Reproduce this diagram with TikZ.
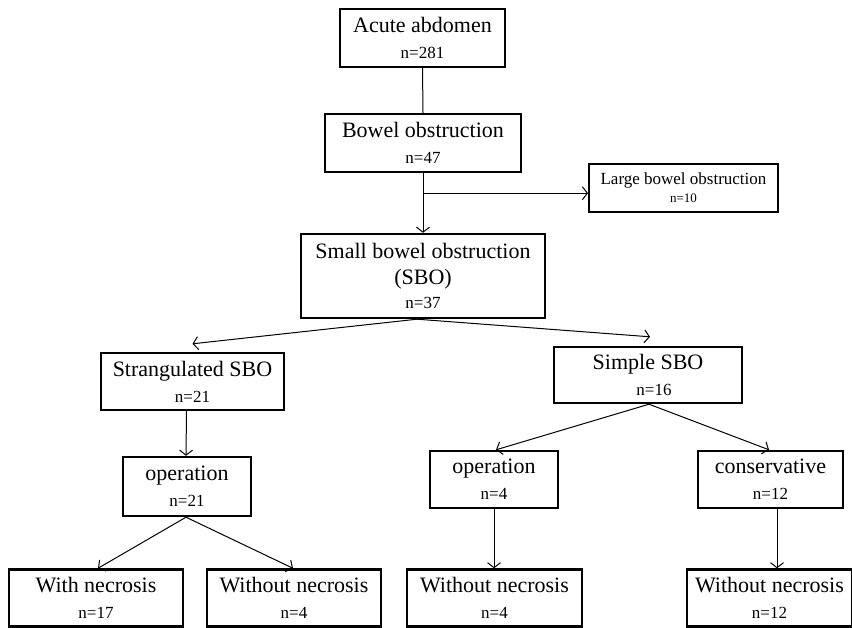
\documentclass[tikz,border=0pt]{standalone}
\usepackage{fontspec}
\setmainfont{Liberation Serif}
\usetikzlibrary{arrows.meta,calc}
\newcommand{\bigf}{\fontsize{22}{24}\selectfont}
\newcommand{\nf}{\fontsize{17}{20}\selectfont}
\newcommand{\smf}{\fontsize{17}{18}\selectfont}
\newcommand{\snf}{\fontsize{13}{15}\selectfont}
\begin{document}
\begin{tikzpicture}[x=1pt,y=-1pt,
  box/.style={draw, line width=2.4pt, inner sep=0pt, align=center, font=\bigf},
  conn/.style={line width=1pt},
  arr/.style={line width=1pt, -{Straight Barb[length=5pt,width=13pt,line width=1pt]}}]
\useasboundingbox (0,0) rectangle (852,628);

\node[box, minimum width=165pt, minimum height=58pt] (A) at (422.5,38) {Acute abdomen\\[2pt]{\nf n=281}};
\node[box, minimum width=196pt, minimum height=58pt] (B) at (423,143) {Bowel obstruction\\[2pt]{\nf n=47}};
\node[box, line width=2pt, minimum width=189pt, minimum height=48pt, font=\smf] (L) at (683.5,188) {Large bowel obstruction\\{\snf n=10}};
\node[box, minimum width=244pt, minimum height=84pt] (S) at (423,276) {Small bowel obstruction\\[2pt](SBO)\\{\nf n=37}};
\node[box, minimum width=183pt, minimum height=57pt] (St) at (192.5,381.5) {Strangulated SBO\\[2pt]{\nf n=21}};
\node[box, minimum width=188pt, minimum height=56pt] (Si) at (648,375) {Simple SBO\\[2pt]{\nf \hspace*{12pt}n=16}};
\node[box, minimum width=128pt, minimum height=59pt] (O1) at (187,486.5) {operation\\[2pt]{\nf n=21}};
\node[box, minimum width=128pt, minimum height=57pt] (O2) at (494,479.5) {operation\\[2pt]{\nf n=4}};
\node[box, minimum width=145pt, minimum height=57pt] (C) at (770.5,479.5) {conservative\\[2pt]{\nf n=12}};
\node[box, minimum width=174pt, minimum height=57pt] (W1) at (96,598) {With necrosis\\[2pt]{\nf n=17}};
\node[box, minimum width=174pt, minimum height=57pt] (W2) at (294,598) {Without necrosis\\[2pt]{\nf n=4}};
\node[box, minimum width=175pt, minimum height=57pt] (W3) at (494.5,598) {Without necrosis\\[2pt]{\nf n=4}};
\node[box, minimum width=165pt, minimum height=57pt] (W4) at (769.5,598) {Without necrosis\\[2pt]{\nf n=12}};

\coordinate (br) at ($(B.south)+(0,20)$);
\coordinate (sb) at ($(S.south)+(-6,0)$);
\coordinate (sib) at ($(Si.south)+(1,0)$);

\draw[conn] (A.south) -- (B.north);
\draw[arr] (B.south) -- (S.north);
\draw[arr] (br) -- (br -| L.west);
\draw[arr] (sb) -- ($(St.north)+(0,-8)$);
\draw[arr] (sb) -- ($(Si.north)+(2,-9)$);
\draw[arr] ($(St.south)+(-6,0)$) -- ($(O1.north)+(-1,0)$);
\draw[arr] ($(O1.south)+(-1,0)$) -- ($(W1.north)+(2,0)$);
\draw[arr] ($(O1.south)+(-1,0)$) -- ($(W2.north)+(-1,0)$);
\draw[arr] (sib) -- ($(O2.north)+(2,0)$);
\draw[arr] (sib) -- ($(C.north)+(-1.5,0)$);
\draw[arr] (O2.south) -- (W3.north -| O2.south);
\draw[arr] ($(C.south)+(6.5,0)$) -- ($(W4.north)+(7.5,0)$);
\end{tikzpicture}
\end{document}
